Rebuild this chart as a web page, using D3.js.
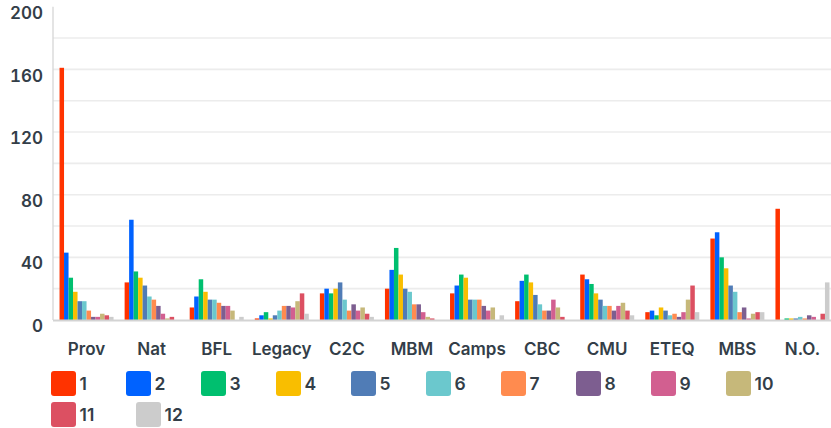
<!DOCTYPE html>
<html>
<head>
<meta charset="utf-8">
<script src="https://cdn.jsdelivr.net/npm/d3@7"></script>
<style>
  html, body { margin: 0; padding: 0; background: #fff; }
  svg { display: block; font-family: Inter, "Open Sans", sans-serif; }
  .num { font-variant-numeric: tabular-nums; }
</style>
</head>
<body>
<svg id="chart" width="831" height="428"></svg>
<script>
// categories on the x axis
const categories = ["Prov", "Nat", "BFL", "Legacy", "C2C", "MBM", "Camps", "CBC", "CMU", "ETEQ", "MBS", "N.O."];
// series (rank 1..12)
const series = ["1", "2", "3", "4", "5", "6", "7", "8", "9", "10", "11", "12"];
const colors = ["#ff3300", "#0062ff", "#00bf6f", "#f9be00", "#507cb6", "#6bc8cd",
                "#ff8b4f", "#7d5e90", "#d25f90", "#c6b87a", "#dc5062", "#cccccc"];

// one array per category, one value per series
const prov   = [161, 43, 27, 18, 12, 12, 6, 2, 2, 4, 3, 2];
const nat    = [24, 64, 31, 27, 22, 15, 13, 9, 4, 1, 2, 0];
const bfl    = [8, 15, 26, 18, 13, 13, 11, 9, 9, 6, 0, 2];
const legacy = [1, 3, 5, 1, 3, 6, 9, 9, 8, 12, 17, 4];
const c2c    = [17, 20, 17, 20, 24, 13, 6, 10, 6, 8, 4, 2];
const mbm    = [20, 32, 46, 29, 20, 18, 10, 10, 5, 2, 1, 0];
const camps  = [17, 22, 29, 27, 13, 13, 13, 9, 6, 8, 0, 3];
const cbc    = [12, 25, 29, 24, 16, 10, 6, 6, 13, 8, 2, 0];
const cmu    = [29, 26, 23, 17, 13, 9, 9, 6, 9, 11, 6, 3];
const eteq   = [5, 6, 3, 8, 6, 3, 4, 2, 5, 13, 22, 5];
const mbs    = [52, 56, 40, 33, 22, 18, 5, 8, 1, 4, 5, 5];
const no     = [71, 0, 1, 1, 1, 2, 1, 3, 2, 0, 4, 24];
const rows = [prov, nat, bfl, legacy, c2c, mbm, camps, cbc, cmu, eteq, mbs, no];

const yTicks = [0, 40, 80, 120, 160, 200];
const gridTicks = [20, 40, 60, 80, 100, 120, 140, 160, 180];

const svg = d3.select("#chart");
const plotLeft = 53, plotRight = 831, plotTop = 6.7, plotBottom = 320;

const x0 = d3.scaleBand().domain(categories).range([54, 835])
    .paddingInner(0.17).paddingOuter(0.085);
const x1 = d3.scaleBand().domain(series).range([0, x0.bandwidth()]);
const y = d3.scaleLinear().domain([0, 200]).range([plotBottom, plotTop]);

// grid
svg.append("g").selectAll("line").data(gridTicks).join("line")
    .attr("x1", plotLeft).attr("x2", plotRight)
    .attr("y1", d => y(d)).attr("y2", d => y(d))
    .attr("stroke", "#ececec").attr("stroke-width", 1.6);

// y axis labels
svg.append("g").attr("class", "num").selectAll("text").data(yTicks).join("text")
    .attr("x", 43).attr("y", d => y(d) + 7.5)
    .attr("text-anchor", "end").attr("dominant-baseline", "middle")
    .attr("font-size", 17).attr("font-weight", 600).attr("fill", "#333e48")
    .text(d => d);

// bars
const groups = svg.append("g").selectAll("g").data(categories).join("g")
    .attr("transform", d => `translate(${x0(d)},0)`);
groups.selectAll("rect")
    .data((d, i) => rows[i].map((v, j) => ({ key: series[j], v: v, c: colors[j] })))
    .join("rect")
    .attr("x", d => x1(d.key))
    .attr("width", x1.bandwidth())
    .attr("y", d => y(d.v))
    .attr("height", d => plotBottom - y(d.v))
    .attr("fill", d => d.c);

// axis lines
svg.append("line").attr("x1", plotLeft).attr("x2", plotLeft).attr("y1", plotTop).attr("y2", plotBottom)
    .attr("stroke", "#d6d6d6").attr("stroke-width", 1.3);
svg.append("line").attr("x1", plotLeft).attr("x2", plotRight).attr("y1", plotBottom + 0.5).attr("y2", plotBottom + 0.5)
    .attr("stroke", "#d3d3d3").attr("stroke-width", 2);

// x labels
svg.append("g").selectAll("text").data(categories).join("text")
    .attr("x", d => x0(d) + x0.bandwidth() / 2).attr("y", 355)
    .attr("text-anchor", "middle")
    .attr("font-size", 17).attr("font-weight", 600).attr("fill", "#333e48")
    .text(d => d);

// legend: fixed-width digit slots, proportional glyphs
const legend = svg.append("g");
const digitW = 10, itemGap = 36;
let lx = 51, ly = 371;
series.forEach((s, i) => {
    const tw = digitW * s.length;
    if (lx + 29 + tw > plotRight) { lx = 51; ly += 31; }
    legend.append("rect").attr("x", lx).attr("y", ly).attr("width", 25).attr("height", 25)
        .attr("rx", 3).attr("fill", colors[i]);
    legend.append("text")
        .attr("x", lx + 28.5).attr("y", ly + 19)
        .attr("font-size", 17.5).attr("font-weight", 600).attr("fill", "#333e48")
        .text(s);
    lx += 29 + tw + itemGap;
});
</script>
</body>
</html>
